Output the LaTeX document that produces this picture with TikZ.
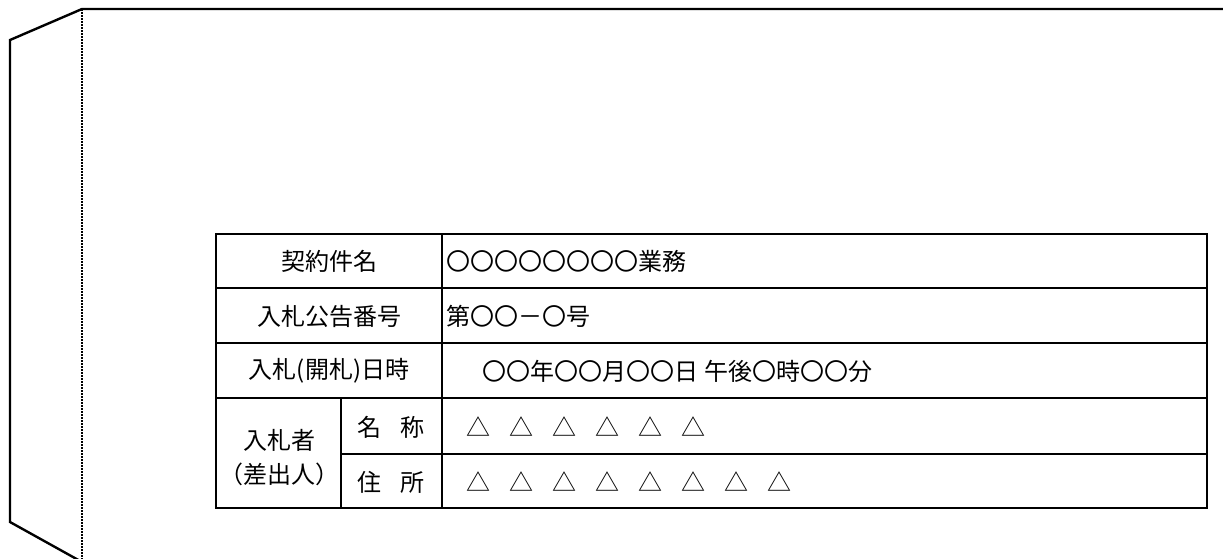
\documentclass[tikz,border=0pt]{standalone}
\usepackage{fontspec}
\newfontfamily\jp{Noto Sans CJK JP}
\begin{document}
\begin{tikzpicture}[x=1pt,y=-1pt,
  env/.style={line width=2.4pt, black},
  fold/.style={line width=2.6pt, black, dash pattern=on 2pt off 1pt},
  grid/.style={line width=2.7pt, black},
  lbl/.style={font=\jp\fontsize{24}{34}\selectfont, inner sep=0pt, align=center},
  val/.style={font=\jp\fontsize{24}{30}\selectfont, inner sep=0pt, anchor=west}]
\useasboundingbox (0,0) rectangle (1223,558);
\clip (0,0) rectangle (1223,558);
% envelope
\coordinate (ft) at (82,9);
\coordinate (fb) at (82,562);
\coordinate (tr) at (1226,9);
\coordinate (lt) at (10,40);
\coordinate (lb) at (10,522);
\draw[env] (tr) -- (ft) -- (lt) -- (lb) -- (fb);
\draw[fold] (ft) -- (82,560);
% table
\coordinate (tl) at (216,234);
\coordinate (br) at (1207,508);
\draw[grid] (tl) rectangle (br);
\draw[grid] (216,288) -- (1207,288);
\draw[grid] (216,343) -- (1207,343);
\draw[grid] (216,398) -- (1207,398);
\draw[grid] (341,454) -- (1207,454);
\draw[grid] (442,234) -- (442,508);
\draw[grid] (341,398) -- (341,508);
% labels
\node[lbl] (l1) at (329,261) {契約件名};
\node[lbl] (l2) at (329,316) {入札公告番号};
\node[lbl] (l3) at (329,371) {入札(開札)日時};
\node[lbl] (l4) at (279,458) {入札者\\（差出人）};
\node[lbl] (l5) at (391,427) {名\hspace{0.8em}称};
\node[lbl] (l6) at (391,482) {住\hspace{0.8em}所};
% values
\node[val] (v1) at (446,261) {〇〇〇〇〇〇〇〇業務};
\node[val] (v2) at (446,316) {第〇〇－〇号};
\node[val] (v3) at (482,371) {〇〇年〇〇月〇〇日\hspace{6pt}午後〇時〇〇分};
\node[val] (v4) at (466,427) {△\hspace{19pt}△\hspace{19pt}△\hspace{19pt}△\hspace{19pt}△\hspace{19pt}△};
\node[val] (v5) at (466,482) {△\hspace{19pt}△\hspace{19pt}△\hspace{19pt}△\hspace{19pt}△\hspace{19pt}△\hspace{19pt}△\hspace{19pt}△};
\end{tikzpicture}
\end{document}
